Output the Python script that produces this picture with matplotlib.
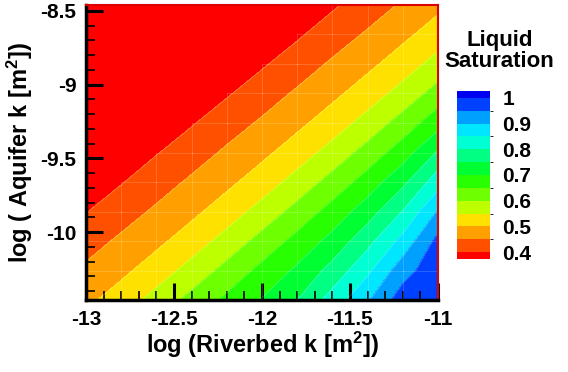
import matplotlib
matplotlib.use("Agg")
import matplotlib.pyplot as plt
from matplotlib.colors import ListedColormap, BoundaryNorm
from matplotlib.ticker import MultipleLocator

plt.rcParams['font.family'] = ['Liberation Sans', 'DejaVu Sans']
plt.rcParams['font.weight'] = 'bold'
plt.rcParams['mathtext.fontset'] = 'custom'
plt.rcParams['mathtext.rm'] = 'Liberation Sans:bold'
plt.rcParams['mathtext.bf'] = 'Liberation Sans:bold'
plt.rcParams['mathtext.default'] = 'bf'

# mesh: log riverbed k (x) and log aquifer k (y)
log_riverbed_k = [-13.0, -12.8, -12.6, -12.4, -12.2, -12.0, -11.8, -11.6, -11.4, -11.2, -11.0]
log_aquifer_k = [-10.46, -10.26, -10.06, -9.86, -9.66, -9.46, -9.26, -9.06, -8.86, -8.66, -8.46]

# liquid saturation, one row per aquifer k (bottom row first)
saturation = [
    [0.488, 0.525, 0.568, 0.616, 0.661, 0.703, 0.750, 0.821, 0.894, 0.977, 0.985],
    [0.459, 0.488, 0.525, 0.568, 0.616, 0.664, 0.709, 0.767, 0.839, 0.929, 0.985],
    [0.429, 0.459, 0.488, 0.525, 0.568, 0.617, 0.666, 0.716, 0.784, 0.866, 0.965],
    [0.398, 0.428, 0.458, 0.488, 0.525, 0.568, 0.617, 0.669, 0.726, 0.802, 0.904],
    [0.367, 0.397, 0.428, 0.458, 0.488, 0.525, 0.568, 0.618, 0.672, 0.738, 0.828],
    [0.336, 0.366, 0.397, 0.427, 0.458, 0.488, 0.525, 0.568, 0.619, 0.676, 0.755],
    [0.305, 0.335, 0.366, 0.396, 0.427, 0.457, 0.488, 0.525, 0.568, 0.620, 0.681],
    [0.274, 0.304, 0.334, 0.365, 0.395, 0.426, 0.457, 0.488, 0.525, 0.568, 0.620],
    [0.243, 0.273, 0.303, 0.334, 0.364, 0.394, 0.425, 0.457, 0.488, 0.525, 0.568],
    [0.212, 0.242, 0.272, 0.303, 0.333, 0.363, 0.393, 0.425, 0.456, 0.488, 0.525],
    [0.180, 0.211, 0.241, 0.271, 0.302, 0.332, 0.362, 0.393, 0.424, 0.456, 0.488],
]

levels = [0.40, 0.45, 0.50, 0.55, 0.60, 0.65, 0.70, 0.75, 0.80, 0.85, 0.90, 0.95, 1.00]
band_colors = ['#ff5000', '#ffa000', '#ffe100', '#beff00', '#6eff00', '#28ff00',
               '#00ff32', '#00ff82', '#00ffd2', '#00e6ff', '#00a0ff', '#0040ff']
under_color = '#ff0000'
over_color = '#0000f0'

cbar_ticks = [0.4, 0.5, 0.6, 0.7, 0.8, 0.9, 1.0]
cbar_labels = ['0.4', '0.5', '0.6', '0.7', '0.8', '0.9', '1']
x_ticks = [-13, -12.5, -12, -11.5, -11]
x_labels = ['-13', '-12.5', '-12', '-11.5', '-11']
y_ticks = [-10, -9.5, -9, -8.5]
y_labels = ['-10', '-9.5', '-9', '-8.5']

cmap = ListedColormap(band_colors)
cmap.set_under(under_color)
cmap.set_over(over_color)
norm = BoundaryNorm(levels, cmap.N)

fig = plt.figure(figsize=(5.68, 3.72), dpi=100)
ax = fig.add_axes([0.1514, 0.1935, 0.6197, 0.7931])

cs = ax.contourf(log_riverbed_k, log_aquifer_k, saturation, levels=levels,
                 cmap=cmap, norm=norm, extend='both')
ax.contour(log_riverbed_k, log_aquifer_k, saturation, levels=levels,
           colors='white', linewidths=0.5, alpha=0.3)

# faint mesh lines (only visible outside the fully red cells)
nx, ny = len(log_riverbed_k), len(log_aquifer_k)
for j in range(ny):
    for i in range(nx - 1):
        if max(saturation[j][i], saturation[j][i + 1]) > 0.4:
            ax.plot(log_riverbed_k[i:i + 2], [log_aquifer_k[j]] * 2,
                    color='white', lw=0.6, alpha=0.2)
for i in range(nx):
    for j in range(ny - 1):
        if max(saturation[j][i], saturation[j + 1][i]) > 0.4:
            ax.plot([log_riverbed_k[i]] * 2, log_aquifer_k[j:j + 2],
                    color='white', lw=0.6, alpha=0.2)

ax.set_xlim(-13, -11)
ax.set_ylim(-10.46, -8.46)
ax.set_xticks(x_ticks)
ax.set_xticklabels(x_labels)
ax.set_yticks(y_ticks)
ax.set_yticklabels(y_labels)
ax.xaxis.set_minor_locator(MultipleLocator(0.1))
ax.yaxis.set_minor_locator(MultipleLocator(0.1))
ax.tick_params(which='major', direction='in', length=12, width=2.2,
               labelsize=15, pad=7, top=False, right=False)
ax.tick_params(which='minor', direction='in', length=6.5, width=1.2,
               top=False, right=False)

for side in ['left', 'bottom']:
    ax.spines[side].set_linewidth(2.5)
for side in ['top', 'right']:
    ax.spines[side].set_color('#dd0000')
    ax.spines[side].set_linewidth(1.5)

ax.set_xlabel(r'log (Riverbed k [m$^2$])', fontsize=17, fontweight='bold')
ax.set_ylabel(r'log ( Aquifer k [m$^2$])', fontsize=17, fontweight='bold')
ax.xaxis.set_label_coords(0.5, -0.1)
ax.yaxis.set_label_coords(-0.145, 0.5)

cax = fig.add_axes([0.8046, 0.3038, 0.0581, 0.4516])
cb = fig.colorbar(cs, cax=cax, ticks=cbar_ticks, extendrect=True, extendfrac=0.045)
cb.set_ticklabels(cbar_labels)
cb.outline.set_visible(False)
cax.tick_params(length=0, labelsize=15, pad=9)

fig.text(0.879, 0.862, 'Liquid\nSaturation', ha='center', va='center',
         fontsize=16, fontweight='bold', linespacing=1.0)

fig.savefig('out.png', dpi=100)
